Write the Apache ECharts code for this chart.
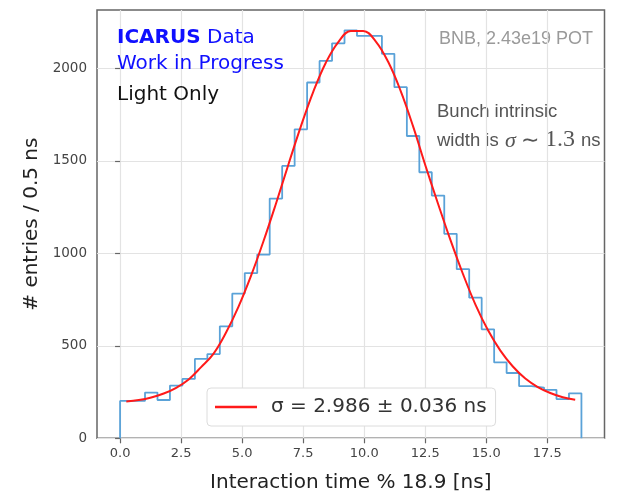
<!DOCTYPE html>
<html><head><meta charset="utf-8">
<script src="https://cdn.jsdelivr.net/npm/echarts@6/dist/echarts.min.js"></script>
<style>html,body{margin:0;padding:0;background:#fff}#c{width:620px;height:493px}</style>
</head><body><div id="c"></div>
<script>
// ---- data ----
const histRange = [0, 18.9];
const binCounts = [202, 202, 247, 207, 285, 321, 429, 455, 605, 782, 893, 993, 1296, 1472, 1670, 1923, 2040, 2135, 2205, 2175, 2175, 2078, 1898, 1634, 1438, 1312, 1105, 914, 760, 589, 410, 353, 282, 274, 262, 212, 243];
const fitValues = [199, 207, 221, 242, 273, 318, 385, 458, 572, 712, 878, 1065, 1268, 1480, 1686, 1874, 2030, 2142, 2201, 2202, 2146, 2035, 1878, 1686, 1472, 1268, 1071, 888, 723, 585, 474, 388, 323, 277, 245, 222, 208];
const xTickValues = [0, 2.5, 5, 7.5, 10, 12.5, 15, 17.5];
const yTickValues = [0, 500, 1000, 1500, 2000];
const xLimits = [-0.945, 19.845];
const yLimits = [0, 2315];
const legendLabel = 'σ = 2.986 ± 0.036 ns';
const xTitle = 'Interaction time % 18.9 [ns]';
const yTitle = '# entries / 0.5 ns';

// ---- build series from bins ----
const binWidth = (histRange[1] - histRange[0]) / binCounts.length;
const edges = binCounts.map((_, i) => histRange[0] + i * binWidth);
const centers = edges.map(e => e + binWidth / 2);
const stepData = [[histRange[0], 0]];
binCounts.forEach((v, i) => stepData.push([edges[i], v]));
stepData.push([histRange[1], binCounts[binCounts.length - 1]]);
stepData.push([histRange[1], 0]);
const fitData = centers.map((c, i) => [c, fitValues[i]]);

const chart = echarts.init(document.getElementById('c'), null, {renderer: 'canvas'});
const sans = 'DejaVu Sans';
const arial = 'Liberation Sans';
const serif = 'Liberation Serif';
chart.setOption({
  animation: false,
  backgroundColor: '#fff',
  grid: {left: 97, top: 10, width: 507.5, height: 428.3, outerBoundsMode: 'none', containLabel: false,
         show: true, borderColor: '#666', borderWidth: 1.5, backgroundColor: 'transparent'},
  xAxis: {
    type: 'value', min: xLimits[0], max: xLimits[1],
    axisLine: {show: false},
    axisTick: {show: true, length: 5, customValues: xTickValues, lineStyle: {color: '#666', width: 1.2}},
    axisLabel: {customValues: xTickValues, margin: 9, fontSize: 13, fontFamily: sans, color: '#444', formatter: v => v.toFixed(1)},
    splitLine: {show: true, lineStyle: {color: '#e3e3e3', width: 1.2}},
    name: xTitle, nameLocation: 'middle', nameGap: 34,
    nameTextStyle: {fontSize: 20, fontFamily: sans, color: '#222'}
  },
  yAxis: {
    type: 'value', min: yLimits[0], max: yLimits[1],
    axisLine: {show: false},
    axisTick: {show: true, length: 5, customValues: yTickValues, lineStyle: {color: '#666', width: 1.2}},
    axisLabel: {customValues: yTickValues, margin: 10, fontSize: 13.5, fontFamily: sans, color: '#444', formatter: v => String(v)},
    splitLine: {show: true, lineStyle: {color: '#e3e3e3', width: 1.2}},
    name: yTitle, nameLocation: 'middle', nameGap: 44,
    nameTextStyle: {fontSize: 20, fontFamily: sans, color: '#222'}
  },
  legend: {
    data: [{name: legendLabel, icon: 'rect'}],
    left: 207, top: 388, orient: 'horizontal',
    padding: [9, 9, 9, 8],
    itemWidth: 42, itemHeight: 2.5,
    backgroundColor: '#fff', borderColor: '#dcdcdc', borderWidth: 1, borderRadius: 4,
    textStyle: {fontSize: 20, fontFamily: sans, color: '#333', padding: [0, 0, 0, 9]},
    selectedMode: false
  },
  series: [
    {type: 'line', name: 'hist', data: stepData, step: 'end', symbol: 'none', silent: true,
     lineStyle: {color: '#5aa2d8', width: 1.8}, z: 2},
    {type: 'line', name: legendLabel, data: fitData, smooth: 0.4, symbol: 'none', silent: true,
     lineStyle: {color: '#ff1a1a', width: 2}, itemStyle: {color: '#ff1a1a'}, z: 3}
  ],
  graphic: [
    {type: 'text', x: 117, y: 38, silent: true, z: 100, style: {
      text: '{b|ICARUS} {r|Data}', verticalAlign: 'middle', align: 'left',
      rich: {b: {fontFamily: sans, fontWeight: 'bold', fontSize: 20, fill: '#1010ff'},
             r: {fontFamily: sans, fontSize: 20, fill: '#1010ff'}},
      fontSize: 20, fontFamily: sans, fill: '#1010ff'}},
    {type: 'text', x: 117, y: 64, silent: true, z: 100, style: {text: 'Work in Progress', verticalAlign: 'middle', fontSize: 20, fontFamily: sans, fill: '#1010ff'}},
    {type: 'text', x: 117, y: 95, silent: true, z: 100, style: {text: 'Light Only', verticalAlign: 'middle', fontSize: 20, fontFamily: sans, fill: '#111'}},
    {type: 'text', x: 593, y: 39, silent: true, style: {text: 'BNB, 2.43e19 POT', align: 'right', verticalAlign: 'middle', fontSize: 18, fontFamily: arial, fill: '#9a9a9a'}},
    {type: 'text', x: 437, y: 112, silent: true, style: {text: 'Bunch intrinsic', verticalAlign: 'middle', fontSize: 18.5, fontFamily: arial, fill: '#555'}},
    {type: 'text', x: 437, y: 141, silent: true, style: {text: 'width is', verticalAlign: 'middle', fontSize: 18.5, fontFamily: arial, fill: '#555'}},
    {type: 'text', x: 505, y: 141, silent: true, style: {text: 'σ', verticalAlign: 'middle', fontSize: 22, fontFamily: serif, fontStyle: 'italic', fill: '#555'}},
    {type: 'text', x: 521, y: 141, silent: true, style: {text: '∼', verticalAlign: 'middle', fontSize: 22, fontFamily: serif, fill: '#555'}},
    {type: 'text', x: 545, y: 140, silent: true, style: {text: '1.3', verticalAlign: 'middle', fontSize: 24, fontFamily: serif, fill: '#555'}},
    {type: 'text', x: 581, y: 141, silent: true, style: {text: 'ns', verticalAlign: 'middle', fontSize: 18.5, fontFamily: arial, fill: '#555'}}
  ]
});
</script>
</body></html>
